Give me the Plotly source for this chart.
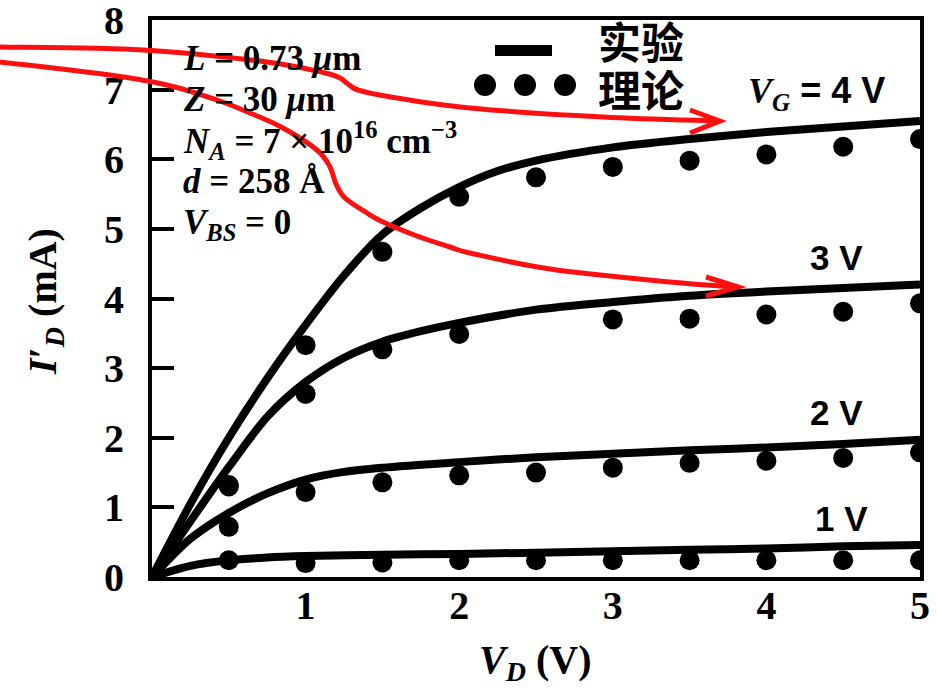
import plotly.graph_objects as go

# ---------------- data ----------------
# experimental (solid lines)
vd_4v = [0, 0.25, 0.5, 0.75, 1.0, 1.25, 1.5, 1.75, 2.0, 2.25, 2.5, 3.0, 3.5, 4.0, 4.5, 5.0]
id_4v = [0, 1.05, 2.0, 2.85, 3.62, 4.33, 4.92, 5.3, 5.6, 5.83, 5.98, 6.17, 6.29, 6.39, 6.47, 6.55]

vd_3v = [0, 0.25, 0.5, 0.75, 1.0, 1.25, 1.5, 1.75, 2.0, 2.5, 3.0, 3.5, 4.0, 4.5, 5.0]
id_3v = [0, 0.8, 1.58, 2.3, 2.8, 3.15, 3.38, 3.53, 3.65, 3.84, 3.95, 4.04, 4.1, 4.15, 4.2]

vd_2v = [0, 0.25, 0.5, 0.75, 1.0, 1.25, 1.5, 2.0, 2.5, 3.0, 3.5, 4.0, 4.5, 5.0]
id_2v = [0, 0.55, 0.92, 1.2, 1.4, 1.51, 1.57, 1.65, 1.72, 1.77, 1.82, 1.86, 1.91, 1.97]

vd_1v = [0, 0.25, 0.5, 0.75, 1.0, 1.5, 2.0, 2.5, 3.0, 3.5, 4.0, 4.5, 5.0]
id_1v = [0, 0.16, 0.24, 0.28, 0.3, 0.32, 0.33, 0.35, 0.37, 0.39, 0.41, 0.44, 0.46]

# theoretical (dots)
vd_dots = [0.5, 1.0, 1.5, 2.0, 2.5, 3.0, 3.5, 4.0, 4.5, 5.0]
th_4v = [1.32, 3.33, 4.67, 5.46, 5.74, 5.89, 5.98, 6.07, 6.18, 6.29]
th_3v = [1.3, 2.63, 3.27, 3.49, None, 3.70, 3.71, 3.77, 3.81, 3.93]
th_2v = [0.72, 1.22, 1.36, 1.46, 1.50, 1.57, 1.64, 1.67, 1.71, 1.79]
th_1v = [0.24, 0.2, 0.21, 0.24, 0.24, 0.24, 0.24, 0.24, 0.24, 0.24]

x_ticks = [1, 2, 3, 4, 5]
y_ticks = [0, 1, 2, 3, 4, 5, 6, 7, 8]

# ---------------- layout geometry ----------------
W, H = 938, 700
ML, MR, MT, MB = 152, 18, 20, 123
PW, PH = W - ML - MR, H - MT - MB


def px(x, y):
    return (x - ML) / PW, (H - MB - y) / PH


def smooth_path(pts):
    p = [px(*q) for q in pts]
    d = "M {:.5f},{:.5f}".format(*p[0])
    n = len(p)
    for i in range(n - 1):
        p0 = p[i - 1] if i > 0 else p[i]
        p1, p2 = p[i], p[i + 1]
        p3 = p[i + 2] if i + 2 < n else p[i + 1]
        c1 = (p1[0] + (p2[0] - p0[0]) / 6, p1[1] + (p2[1] - p0[1]) / 6)
        c2 = (p2[0] - (p3[0] - p1[0]) / 6, p2[1] - (p3[1] - p1[1]) / 6)
        d += " C {:.5f},{:.5f} {:.5f},{:.5f} {:.5f},{:.5f}".format(*c1, *c2, *p2)
    return d


def poly_path(pts):
    p = [px(*q) for q in pts]
    return "M " + " L ".join("{:.5f},{:.5f}".format(*q) for q in p)


fig = go.Figure()

LINE_W = 8
for xs, ys in [(vd_4v, id_4v), (vd_3v, id_3v), (vd_2v, id_2v), (vd_1v, id_1v)]:
    fig.add_trace(go.Scatter(x=xs, y=ys, mode="lines",
                             line=dict(color="black", width=LINE_W, shape="spline", smoothing=0.8),
                             showlegend=False, hoverinfo="skip"))

for ys in [th_4v, th_3v, th_2v, th_1v]:
    fig.add_trace(go.Scatter(x=vd_dots, y=ys, mode="markers",
                             marker=dict(color="black", size=20, line=dict(width=0)),
                             showlegend=False, hoverinfo="skip"))

shapes = []
RED = "#ff1010"
# red hand-drawn arrows
red1 = [(0, 47), (143, 50), (267, 62), (325, 73), (340, 78), (348, 84), (358, 90),
        (385, 96), (470, 108), (603, 117), (718, 121)]
red2 = [(0, 62), (110, 75), (167, 85), (217, 100), (250, 113), (283, 128), (317, 150),
        (330, 167), (336, 184), (345, 198), (367, 213), (383, 222), (417, 236),
        (450, 247), (470, 253), (550, 269), (670, 282), (737, 287)]
for pts in (red1, red2):
    shapes.append(dict(type="path", xref="paper", yref="paper", path=smooth_path(pts),
                       line=dict(color=RED, width=5)))
shapes.append(dict(type="path", xref="paper", yref="paper",
                   path=poly_path([(690, 110), (720, 121), (690, 133)]),
                   line=dict(color=RED, width=5)))
shapes.append(dict(type="path", xref="paper", yref="paper",
                   path=poly_path([(706, 277), (738, 287), (706, 296)]),
                   line=dict(color=RED, width=5)))

# legend glyphs
x0, y0 = px(495, 45)
x1, y1 = px(552, 56)
shapes.append(dict(type="rect", xref="paper", yref="paper", x0=x0, y0=y0, x1=x1, y1=y1,
                   fillcolor="black", line=dict(width=0)))
for cx in (485, 525, 565):
    a0, b0 = px(cx - 11, 74)
    a1, b1 = px(cx + 11, 96)
    shapes.append(dict(type="circle", xref="paper", yref="paper", x0=a0, y0=b0, x1=a1, y1=b1,
                       fillcolor="black", line=dict(width=0)))

annotations = []
SERIF = "Liberation Serif"
SANS = "Liberation Sans"


def ann(text, x, y, size, family=SERIF, xanchor="left", yanchor="middle", angle=0, weight="bold"):
    xp, yp = px(x, y)
    annotations.append(dict(text=text, x=xp, y=yp, xref="paper", yref="paper",
                            xanchor=xanchor, yanchor=yanchor, showarrow=False,
                            textangle=angle,
                            font=dict(family=family, size=size, color="black", weight=weight)))


TB = 35
ann("<i>L</i> = 0.73 <i>μ</i>m", 181, 59, TB)
ann("<i>Z</i> = 30 <i>μ</i>m", 181, 99, TB)
ann("<i>N</i><sub><i>A</i></sub> = 7 × 10<sup>16</sup> cm<sup>−3</sup>", 181, 140, TB)
ann("<i>d</i> = 258 Å", 181, 181, TB)
ann("<i>V</i><sub><i>BS</i></sub> = 0", 181, 224, TB)

ann("实验", 596, 40, 43, family="Noto Sans CJK SC")
ann("理论", 596, 88, 43, family="Noto Sans CJK SC")

ann("<span style='font-family:Liberation Serif'><i>V</i><sub><i>G</i></sub></span> = 4 V", 746, 93, 36, family=SANS)
ann("3 V", 808, 257, 35, family=SANS)
ann("2 V", 808, 412, 35, family=SANS)
ann("1 V", 813, 518, 35, family=SANS)

ann("<i>V</i><sub><i>D</i></sub> (V)", 535, 662, 40, xanchor="center")
ann("<i>I</i>′<sub><i>D</i></sub> (mA)", 45, 302, 40, xanchor="center", angle=-90)

fig.update_layout(
    width=W, height=H,
    margin=dict(l=ML, r=MR, t=MT, b=MB, pad=0, autoexpand=False),
    paper_bgcolor="white", plot_bgcolor="white",
    showlegend=False,
    shapes=shapes,
    annotations=annotations,
    xaxis=dict(range=[0, 5], tickvals=x_ticks, ticktext=[str(v) for v in x_ticks],
               automargin=False,
               showgrid=False, zeroline=False, showline=True, linecolor="black",
               linewidth=4, mirror=True, ticks="", ticklabelstandoff=-10,
               ticklabeloverflow="allow",
               tickfont=dict(family=SERIF, size=40, color="black", weight="bold")),
    yaxis=dict(range=[0, 8], tickvals=y_ticks, ticktext=[str(v) for v in y_ticks],
               automargin=False,
               showgrid=False, zeroline=False, showline=True, linecolor="black",
               linewidth=4, mirror=True, ticks="inside", ticklen=22, tickwidth=4,
               tickcolor="black", ticklabelstandoff=16, ticklabeloverflow="allow",
               tickfont=dict(family=SERIF, size=40, color="black", weight="bold")),
)

fig.write_html("out.html")
